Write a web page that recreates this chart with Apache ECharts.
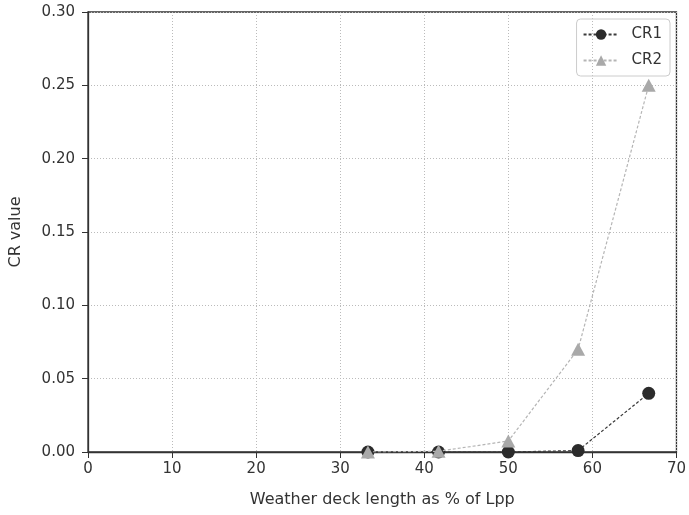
<!DOCTYPE html>
<html><head><meta charset="utf-8">
<script src="https://cdn.jsdelivr.net/npm/echarts@6/dist/echarts.min.js"></script>
<style>html,body{margin:0;padding:0;background:#fff}#c{width:689px;height:515px}</style>
</head><body><div id="c"></div>
<script>
const xValues = [33.3, 41.7, 50.0, 58.3, 66.7];
const cr1 = [0.0, 0.0, 0.0, 0.001, 0.040];
const cr2 = [0.0, 0.0005, 0.0075, 0.070, 0.250];
const seriesNames = ['CR1', 'CR2'];
const xTitle = 'Weather deck length as % of Lpp';
const yTitle = 'CR value';

const font = 'DejaVu Sans';
const chart = echarts.init(document.getElementById('c'), null, {renderer: 'canvas'});
const pair = (xs, ys) => xs.map((x, i) => [x, ys[i]]);
chart.setOption({
  animation: false,
  backgroundColor: '#fff',
  textStyle: {fontFamily: font},
  grid: {left: 87, right: 10, top: 12, bottom: 63, show: true, borderColor: '#333333', borderWidth: 1.3, backgroundColor: 'transparent'},
  legend: {
    orient: 'vertical', right: 19, top: 19, itemGap: 11,
    itemWidth: 35, itemHeight: 13,
    borderColor: '#cccccc', borderWidth: 1, borderRadius: 4, padding: [8, 8, 8, 6],
    textStyle: {fontFamily: font, fontSize: 15, color: '#333', padding: [0, 0, 0, 8]},
    data: seriesNames
  },
  xAxis: {
    type: 'value', min: 0, max: 70, interval: 10,
    name: xTitle, nameLocation: 'middle', nameGap: 40,
    nameTextStyle: {fontFamily: font, fontSize: 16, color: '#333'},
    axisLine: {show: true, lineStyle: {color: '#333333', width: 1.3}},
    axisTick: {show: true, length: 6, lineStyle: {color: '#333333'}},
    axisLabel: {fontFamily: font, fontSize: 15, color: '#333', margin: 10},
    splitLine: {show: true, lineStyle: {color: '#bbbbbb', type: [1, 2], width: 1}}
  },
  yAxis: {
    type: 'value', min: 0, max: 0.30, interval: 0.05,
    name: yTitle, nameLocation: 'middle', nameGap: 64,
    nameTextStyle: {fontFamily: font, fontSize: 16, color: '#333'},
    axisLine: {show: true, lineStyle: {color: '#333333', width: 1.3}},
    axisTick: {show: true, length: 6, lineStyle: {color: '#333333'}},
    axisLabel: {fontFamily: font, fontSize: 15, color: '#333', margin: 13, formatter: v => v.toFixed(2)},
    splitLine: {show: true, lineStyle: {color: '#bbbbbb', type: [1, 2], width: 1}}
  },
  series: [
    {
      name: seriesNames[0], type: 'line', data: pair(xValues, cr1),
      symbol: 'circle', symbolSize: 13, showAllSymbol: true,
      itemStyle: {color: '#2b2b2b'},
      lineStyle: {color: '#3a3a3a', width: 1.2, type: [3, 2]},
      z: 2
    },
    {
      name: seriesNames[1], type: 'line', data: pair(xValues, cr2),
      symbol: 'triangle', symbolSize: [14, 13], showAllSymbol: true,
      itemStyle: {color: '#a9a9a9'},
      lineStyle: {color: '#b5b5b5', width: 1.2, type: [3, 2]},
      z: 3
    }
  ]
});
</script></body></html>
